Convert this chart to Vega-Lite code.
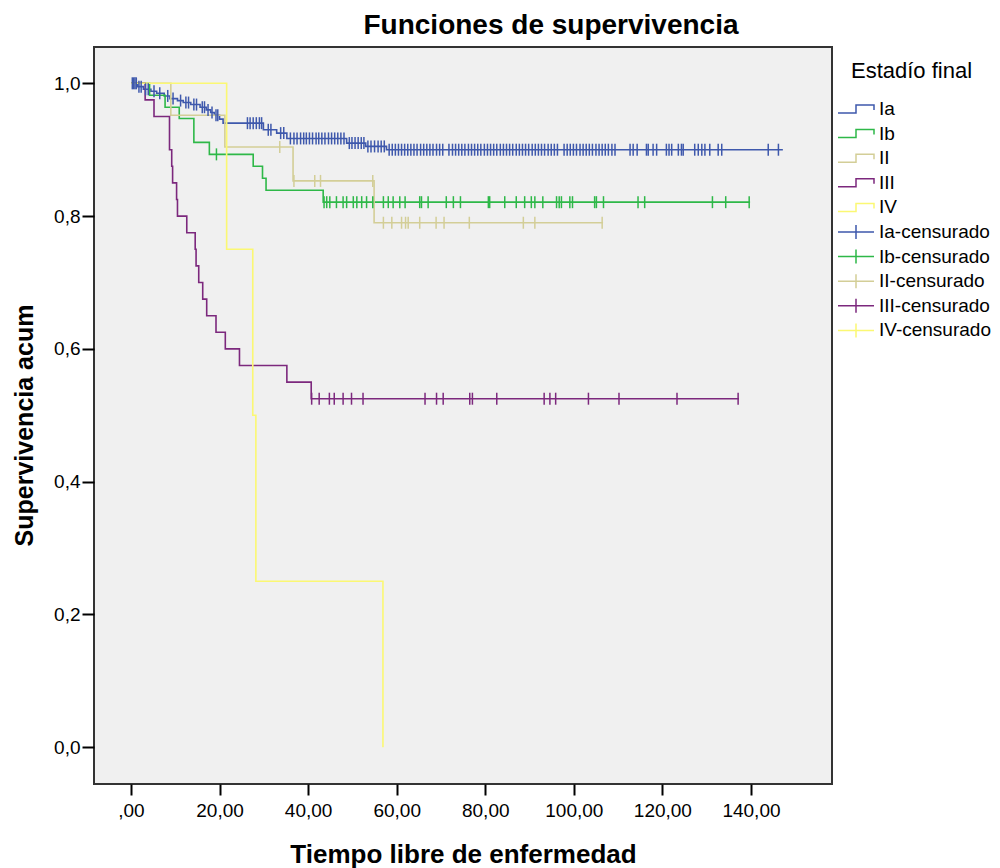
{
  "$schema": "https://vega.github.io/schema/vega-lite/v6.json",
  "width": 738,
  "height": 737,
  "autosize": {"type": "none"},
  "padding": {"left": 94, "top": 47, "right": 168, "bottom": 84},
  "background": "white",
  "title": {"text": "Funciones de supervivencia", "font": "Liberation Sans", "fontSize": 28, "fontWeight": "bold", "color": "black", "anchor": "middle", "dx": 88, "offset": 7},
  "config": {
    "view": {"fill": "#f0f0f0", "stroke": "#333333", "strokeWidth": 2},
    "axis": {"grid": false, "domain": false, "tickColor": "black", "tickWidth": 2, "tickSize": 11, "labelFont": "Liberation Sans", "labelFontSize": 19, "labelColor": "black", "titleFont": "Liberation Sans", "titleFontWeight": "bold", "titleColor": "black"}
  },
  "datasets": {
    "curves": [
      {"grupo":"Ia","tiempo":0,"superv":1},{"grupo":"Ia","tiempo":1.5,"superv":0.995},{"grupo":"Ia","tiempo":2.8,"superv":0.991},{"grupo":"Ia","tiempo":4.5,"superv":0.988},{"grupo":"Ia","tiempo":5.8,"superv":0.985},{"grupo":"Ia","tiempo":7.5,"superv":0.981},{"grupo":"Ia","tiempo":8.8,"superv":0.977},{"grupo":"Ia","tiempo":10.5,"superv":0.974},{"grupo":"Ia","tiempo":11.8,"superv":0.971},{"grupo":"Ia","tiempo":13.5,"superv":0.968},{"grupo":"Ia","tiempo":15.6,"superv":0.964},{"grupo":"Ia","tiempo":17,"superv":0.96},{"grupo":"Ia","tiempo":18,"superv":0.956},{"grupo":"Ia","tiempo":18.8,"superv":0.952},{"grupo":"Ia","tiempo":20,"superv":0.946},{"grupo":"Ia","tiempo":20.8,"superv":0.94},{"grupo":"Ia","tiempo":29.9,"superv":0.93},{"grupo":"Ia","tiempo":32.9,"superv":0.925},{"grupo":"Ia","tiempo":35.2,"superv":0.917},{"grupo":"Ia","tiempo":48.7,"superv":0.91},{"grupo":"Ia","tiempo":53,"superv":0.905},{"grupo":"Ia","tiempo":57.7,"superv":0.9},{"grupo":"Ia","tiempo":147.2,"superv":0.9},
      {"grupo":"Ib","tiempo":0,"superv":1},{"grupo":"Ib","tiempo":4.2,"superv":0.982},{"grupo":"Ib","tiempo":7.7,"superv":0.964},{"grupo":"Ib","tiempo":10.9,"superv":0.947},{"grupo":"Ib","tiempo":14.2,"superv":0.911},{"grupo":"Ib","tiempo":17.7,"superv":0.893},{"grupo":"Ib","tiempo":27.6,"superv":0.875},{"grupo":"Ib","tiempo":29.7,"superv":0.857},{"grupo":"Ib","tiempo":30.5,"superv":0.839},{"grupo":"Ib","tiempo":43.4,"superv":0.821},{"grupo":"Ib","tiempo":139.8,"superv":0.821},
      {"grupo":"II","tiempo":0,"superv":1},{"grupo":"II","tiempo":9.0,"superv":0.952},{"grupo":"II","tiempo":21.2,"superv":0.904},{"grupo":"II","tiempo":36.6,"superv":0.853},{"grupo":"II","tiempo":54.9,"superv":0.79},{"grupo":"II","tiempo":106.6,"superv":0.79},
      {"grupo":"III","tiempo":0,"superv":1},{"grupo":"III","tiempo":3.2,"superv":0.975},{"grupo":"III","tiempo":5.2,"superv":0.95},{"grupo":"III","tiempo":8.7,"superv":0.9},{"grupo":"III","tiempo":9.2,"superv":0.875},{"grupo":"III","tiempo":9.4,"superv":0.85},{"grupo":"III","tiempo":10.3,"superv":0.825},{"grupo":"III","tiempo":10.5,"superv":0.8},{"grupo":"III","tiempo":12.6,"superv":0.775},{"grupo":"III","tiempo":14.5,"superv":0.75},{"grupo":"III","tiempo":14.7,"superv":0.725},{"grupo":"III","tiempo":15.3,"superv":0.7},{"grupo":"III","tiempo":16.2,"superv":0.675},{"grupo":"III","tiempo":17.1,"superv":0.65},{"grupo":"III","tiempo":19.2,"superv":0.625},{"grupo":"III","tiempo":21.3,"superv":0.6},{"grupo":"III","tiempo":24.5,"superv":0.575},{"grupo":"III","tiempo":35.2,"superv":0.55},{"grupo":"III","tiempo":40.7,"superv":0.525},{"grupo":"III","tiempo":137.3,"superv":0.525},
      {"grupo":"IV","tiempo":0,"superv":1},{"grupo":"IV","tiempo":21.6,"superv":0.75},{"grupo":"IV","tiempo":27.5,"superv":0.5},{"grupo":"IV","tiempo":28.2,"superv":0.25},{"grupo":"IV","tiempo":56.9,"superv":0}
    ],
    "censored": [
      {"grupo":"Ia-censurado","tiempo":0.3,"superv":1},{"grupo":"Ia-censurado","tiempo":0.6,"superv":1},{"grupo":"Ia-censurado","tiempo":0.9,"superv":1},{"grupo":"Ia-censurado","tiempo":1.2,"superv":1},
      {"grupo":"Ia-censurado","tiempo":1.8,"superv":0.995},{"grupo":"Ia-censurado","tiempo":2.3,"superv":0.995},
      {"grupo":"Ia-censurado","tiempo":3.3,"superv":0.991},{"grupo":"Ia-censurado","tiempo":3.9,"superv":0.991},
      {"grupo":"Ia-censurado","tiempo":5.2,"superv":0.988},{"grupo":"Ia-censurado","tiempo":6.5,"superv":0.985},{"grupo":"Ia-censurado","tiempo":8.3,"superv":0.981},{"grupo":"Ia-censurado","tiempo":9.5,"superv":0.977},{"grupo":"Ia-censurado","tiempo":11.2,"superv":0.974},
      {"grupo":"Ia-censurado","tiempo":12.4,"superv":0.971},{"grupo":"Ia-censurado","tiempo":13.0,"superv":0.971},{"grupo":"Ia-censurado","tiempo":14.2,"superv":0.968},{"grupo":"Ia-censurado","tiempo":14.8,"superv":0.968},
      {"grupo":"Ia-censurado","tiempo":16.1,"superv":0.964},{"grupo":"Ia-censurado","tiempo":16.6,"superv":0.964},{"grupo":"Ia-censurado","tiempo":17.4,"superv":0.96},{"grupo":"Ia-censurado","tiempo":18.3,"superv":0.956},
      {"grupo":"Ia-censurado","tiempo":19.2,"superv":0.952},{"grupo":"Ia-censurado","tiempo":19.6,"superv":0.952},
      {"grupo":"Ia-censurado","tiempo":26.3,"superv":0.94},{"grupo":"Ia-censurado","tiempo":26.9,"superv":0.94},{"grupo":"Ia-censurado","tiempo":27.6,"superv":0.94},{"grupo":"Ia-censurado","tiempo":28.3,"superv":0.94},{"grupo":"Ia-censurado","tiempo":29.0,"superv":0.94},{"grupo":"Ia-censurado","tiempo":29.5,"superv":0.94},
      {"grupo":"Ia-censurado","tiempo":31.0,"superv":0.93},{"grupo":"Ia-censurado","tiempo":31.6,"superv":0.93},{"grupo":"Ia-censurado","tiempo":33.8,"superv":0.925},{"grupo":"Ia-censurado","tiempo":34.5,"superv":0.925},
      {"grupo":"Ia-censurado","tiempo":36.0,"superv":0.917},{"grupo":"Ia-censurado","tiempo":36.8,"superv":0.917},{"grupo":"Ia-censurado","tiempo":37.5,"superv":0.917},{"grupo":"Ia-censurado","tiempo":38.3,"superv":0.917},{"grupo":"Ia-censurado","tiempo":39.0,"superv":0.917},{"grupo":"Ia-censurado","tiempo":39.6,"superv":0.917},{"grupo":"Ia-censurado","tiempo":40.3,"superv":0.917},{"grupo":"Ia-censurado","tiempo":41.0,"superv":0.917},{"grupo":"Ia-censurado","tiempo":41.8,"superv":0.917},{"grupo":"Ia-censurado","tiempo":42.4,"superv":0.917},{"grupo":"Ia-censurado","tiempo":43.1,"superv":0.917},{"grupo":"Ia-censurado","tiempo":43.8,"superv":0.917},{"grupo":"Ia-censurado","tiempo":44.6,"superv":0.917},{"grupo":"Ia-censurado","tiempo":45.3,"superv":0.917},{"grupo":"Ia-censurado","tiempo":46.0,"superv":0.917},{"grupo":"Ia-censurado","tiempo":46.7,"superv":0.917},{"grupo":"Ia-censurado","tiempo":47.4,"superv":0.917},{"grupo":"Ia-censurado","tiempo":48.1,"superv":0.917},
      {"grupo":"Ia-censurado","tiempo":49.3,"superv":0.91},{"grupo":"Ia-censurado","tiempo":49.9,"superv":0.91},{"grupo":"Ia-censurado","tiempo":50.6,"superv":0.91},{"grupo":"Ia-censurado","tiempo":51.3,"superv":0.91},{"grupo":"Ia-censurado","tiempo":52.0,"superv":0.91},{"grupo":"Ia-censurado","tiempo":52.6,"superv":0.91},
      {"grupo":"Ia-censurado","tiempo":53.5,"superv":0.905},{"grupo":"Ia-censurado","tiempo":54.2,"superv":0.905},{"grupo":"Ia-censurado","tiempo":55.0,"superv":0.905},{"grupo":"Ia-censurado","tiempo":55.8,"superv":0.905},{"grupo":"Ia-censurado","tiempo":56.5,"superv":0.905},{"grupo":"Ia-censurado","tiempo":57.2,"superv":0.905},
      {"grupo":"Ia-censurado","tiempo":58.3,"superv":0.9},{"grupo":"Ia-censurado","tiempo":59.0,"superv":0.9},{"grupo":"Ia-censurado","tiempo":59.7,"superv":0.9},{"grupo":"Ia-censurado","tiempo":60.4,"superv":0.9},{"grupo":"Ia-censurado","tiempo":61.1,"superv":0.9},{"grupo":"Ia-censurado","tiempo":61.8,"superv":0.9},{"grupo":"Ia-censurado","tiempo":62.5,"superv":0.9},{"grupo":"Ia-censurado","tiempo":63.2,"superv":0.9},{"grupo":"Ia-censurado","tiempo":63.9,"superv":0.9},{"grupo":"Ia-censurado","tiempo":64.6,"superv":0.9},{"grupo":"Ia-censurado","tiempo":65.4,"superv":0.9},{"grupo":"Ia-censurado","tiempo":66.1,"superv":0.9},{"grupo":"Ia-censurado","tiempo":66.8,"superv":0.9},{"grupo":"Ia-censurado","tiempo":67.5,"superv":0.9},{"grupo":"Ia-censurado","tiempo":68.2,"superv":0.9},{"grupo":"Ia-censurado","tiempo":69.0,"superv":0.9},{"grupo":"Ia-censurado","tiempo":69.7,"superv":0.9},{"grupo":"Ia-censurado","tiempo":70.4,"superv":0.9},{"grupo":"Ia-censurado","tiempo":71.8,"superv":0.9},{"grupo":"Ia-censurado","tiempo":72.6,"superv":0.9},{"grupo":"Ia-censurado","tiempo":73.3,"superv":0.9},{"grupo":"Ia-censurado","tiempo":74.0,"superv":0.9},{"grupo":"Ia-censurado","tiempo":74.7,"superv":0.9},{"grupo":"Ia-censurado","tiempo":75.4,"superv":0.9},{"grupo":"Ia-censurado","tiempo":76.2,"superv":0.9},{"grupo":"Ia-censurado","tiempo":76.9,"superv":0.9},{"grupo":"Ia-censurado","tiempo":77.6,"superv":0.9},{"grupo":"Ia-censurado","tiempo":78.3,"superv":0.9},{"grupo":"Ia-censurado","tiempo":79.0,"superv":0.9},{"grupo":"Ia-censurado","tiempo":79.8,"superv":0.9},{"grupo":"Ia-censurado","tiempo":80.5,"superv":0.9},{"grupo":"Ia-censurado","tiempo":81.2,"superv":0.9},{"grupo":"Ia-censurado","tiempo":81.9,"superv":0.9},{"grupo":"Ia-censurado","tiempo":82.6,"superv":0.9},{"grupo":"Ia-censurado","tiempo":83.4,"superv":0.9},{"grupo":"Ia-censurado","tiempo":84.1,"superv":0.9},{"grupo":"Ia-censurado","tiempo":84.8,"superv":0.9},{"grupo":"Ia-censurado","tiempo":85.5,"superv":0.9},{"grupo":"Ia-censurado","tiempo":86.2,"superv":0.9},{"grupo":"Ia-censurado","tiempo":87.0,"superv":0.9},{"grupo":"Ia-censurado","tiempo":87.7,"superv":0.9},{"grupo":"Ia-censurado","tiempo":88.4,"superv":0.9},{"grupo":"Ia-censurado","tiempo":89.1,"superv":0.9},{"grupo":"Ia-censurado","tiempo":89.8,"superv":0.9},{"grupo":"Ia-censurado","tiempo":90.6,"superv":0.9},{"grupo":"Ia-censurado","tiempo":91.3,"superv":0.9},{"grupo":"Ia-censurado","tiempo":92.0,"superv":0.9},{"grupo":"Ia-censurado","tiempo":92.7,"superv":0.9},{"grupo":"Ia-censurado","tiempo":93.4,"superv":0.9},{"grupo":"Ia-censurado","tiempo":94.2,"superv":0.9},{"grupo":"Ia-censurado","tiempo":94.9,"superv":0.9},{"grupo":"Ia-censurado","tiempo":95.6,"superv":0.9},{"grupo":"Ia-censurado","tiempo":96.3,"superv":0.9},{"grupo":"Ia-censurado","tiempo":97.8,"superv":0.9},{"grupo":"Ia-censurado","tiempo":98.5,"superv":0.9},{"grupo":"Ia-censurado","tiempo":99.2,"superv":0.9},{"grupo":"Ia-censurado","tiempo":99.9,"superv":0.9},{"grupo":"Ia-censurado","tiempo":100.6,"superv":0.9},{"grupo":"Ia-censurado","tiempo":101.4,"superv":0.9},{"grupo":"Ia-censurado","tiempo":102.1,"superv":0.9},{"grupo":"Ia-censurado","tiempo":102.8,"superv":0.9},{"grupo":"Ia-censurado","tiempo":103.5,"superv":0.9},{"grupo":"Ia-censurado","tiempo":104.2,"superv":0.9},{"grupo":"Ia-censurado","tiempo":105.0,"superv":0.9},{"grupo":"Ia-censurado","tiempo":105.7,"superv":0.9},{"grupo":"Ia-censurado","tiempo":106.4,"superv":0.9},{"grupo":"Ia-censurado","tiempo":107.1,"superv":0.9},{"grupo":"Ia-censurado","tiempo":107.8,"superv":0.9},{"grupo":"Ia-censurado","tiempo":108.6,"superv":0.9},{"grupo":"Ia-censurado","tiempo":109.3,"superv":0.9},
      {"grupo":"Ia-censurado","tiempo":112.7,"superv":0.9},{"grupo":"Ia-censurado","tiempo":113.4,"superv":0.9},{"grupo":"Ia-censurado","tiempo":114.3,"superv":0.9},{"grupo":"Ia-censurado","tiempo":116.4,"superv":0.9},{"grupo":"Ia-censurado","tiempo":116.8,"superv":0.9},{"grupo":"Ia-censurado","tiempo":117.9,"superv":0.9},{"grupo":"Ia-censurado","tiempo":118.7,"superv":0.9},{"grupo":"Ia-censurado","tiempo":120.9,"superv":0.9},{"grupo":"Ia-censurado","tiempo":121.5,"superv":0.9},{"grupo":"Ia-censurado","tiempo":122.1,"superv":0.9},{"grupo":"Ia-censurado","tiempo":123.6,"superv":0.9},{"grupo":"Ia-censurado","tiempo":124.3,"superv":0.9},{"grupo":"Ia-censurado","tiempo":124.7,"superv":0.9},{"grupo":"Ia-censurado","tiempo":127.3,"superv":0.9},{"grupo":"Ia-censurado","tiempo":128.1,"superv":0.9},{"grupo":"Ia-censurado","tiempo":128.9,"superv":0.9},{"grupo":"Ia-censurado","tiempo":129.6,"superv":0.9},{"grupo":"Ia-censurado","tiempo":130.7,"superv":0.9},{"grupo":"Ia-censurado","tiempo":132.6,"superv":0.9},{"grupo":"Ia-censurado","tiempo":133.4,"superv":0.9},{"grupo":"Ia-censurado","tiempo":143.9,"superv":0.9},{"grupo":"Ia-censurado","tiempo":146.2,"superv":0.9},
      {"grupo":"Ib-censurado","tiempo":19.3,"superv":0.893},
      {"grupo":"Ib-censurado","tiempo":43.6,"superv":0.821},{"grupo":"Ib-censurado","tiempo":44.2,"superv":0.821},{"grupo":"Ib-censurado","tiempo":44.9,"superv":0.821},{"grupo":"Ib-censurado","tiempo":46.4,"superv":0.821},{"grupo":"Ib-censurado","tiempo":47.9,"superv":0.821},{"grupo":"Ib-censurado","tiempo":48.7,"superv":0.821},{"grupo":"Ib-censurado","tiempo":50.2,"superv":0.821},{"grupo":"Ib-censurado","tiempo":51.0,"superv":0.821},{"grupo":"Ib-censurado","tiempo":52.1,"superv":0.821},{"grupo":"Ib-censurado","tiempo":53.2,"superv":0.821},{"grupo":"Ib-censurado","tiempo":54.6,"superv":0.821},{"grupo":"Ib-censurado","tiempo":57.0,"superv":0.821},{"grupo":"Ib-censurado","tiempo":58.1,"superv":0.821},{"grupo":"Ib-censurado","tiempo":59.2,"superv":0.821},{"grupo":"Ib-censurado","tiempo":60.7,"superv":0.821},{"grupo":"Ib-censurado","tiempo":61.9,"superv":0.821},{"grupo":"Ib-censurado","tiempo":65.2,"superv":0.821},{"grupo":"Ib-censurado","tiempo":65.6,"superv":0.821},{"grupo":"Ib-censurado","tiempo":67.1,"superv":0.821},{"grupo":"Ib-censurado","tiempo":71.2,"superv":0.821},{"grupo":"Ib-censurado","tiempo":72.8,"superv":0.821},{"grupo":"Ib-censurado","tiempo":74.4,"superv":0.821},{"grupo":"Ib-censurado","tiempo":80.7,"superv":0.821},{"grupo":"Ib-censurado","tiempo":81.0,"superv":0.821},{"grupo":"Ib-censurado","tiempo":84.4,"superv":0.821},{"grupo":"Ib-censurado","tiempo":87.0,"superv":0.821},{"grupo":"Ib-censurado","tiempo":88.9,"superv":0.821},{"grupo":"Ib-censurado","tiempo":90.4,"superv":0.821},{"grupo":"Ib-censurado","tiempo":91.2,"superv":0.821},{"grupo":"Ib-censurado","tiempo":93.0,"superv":0.821},{"grupo":"Ib-censurado","tiempo":96.1,"superv":0.821},{"grupo":"Ib-censurado","tiempo":96.7,"superv":0.821},{"grupo":"Ib-censurado","tiempo":97.2,"superv":0.821},{"grupo":"Ib-censurado","tiempo":99.1,"superv":0.821},{"grupo":"Ib-censurado","tiempo":99.7,"superv":0.821},{"grupo":"Ib-censurado","tiempo":104.7,"superv":0.821},{"grupo":"Ib-censurado","tiempo":105.1,"superv":0.821},{"grupo":"Ib-censurado","tiempo":106.7,"superv":0.821},{"grupo":"Ib-censurado","tiempo":114.5,"superv":0.821},{"grupo":"Ib-censurado","tiempo":116.0,"superv":0.821},{"grupo":"Ib-censurado","tiempo":131.3,"superv":0.821},{"grupo":"Ib-censurado","tiempo":134.3,"superv":0.821},{"grupo":"Ib-censurado","tiempo":139.6,"superv":0.821},
      {"grupo":"II-censurado","tiempo":33.6,"superv":0.904},{"grupo":"II-censurado","tiempo":36.8,"superv":0.853},{"grupo":"II-censurado","tiempo":41.5,"superv":0.853},{"grupo":"II-censurado","tiempo":42.8,"superv":0.853},{"grupo":"II-censurado","tiempo":54.6,"superv":0.853},
      {"grupo":"II-censurado","tiempo":57.0,"superv":0.79},{"grupo":"II-censurado","tiempo":58.9,"superv":0.79},{"grupo":"II-censurado","tiempo":61.1,"superv":0.79},{"grupo":"II-censurado","tiempo":62.0,"superv":0.79},{"grupo":"II-censurado","tiempo":62.6,"superv":0.79},{"grupo":"II-censurado","tiempo":65.2,"superv":0.79},{"grupo":"II-censurado","tiempo":68.9,"superv":0.79},{"grupo":"II-censurado","tiempo":70.7,"superv":0.79},{"grupo":"II-censurado","tiempo":76.4,"superv":0.79},{"grupo":"II-censurado","tiempo":88.6,"superv":0.79},{"grupo":"II-censurado","tiempo":91.2,"superv":0.79},{"grupo":"II-censurado","tiempo":106.4,"superv":0.79},
      {"grupo":"III-censurado","tiempo":40.8,"superv":0.525},{"grupo":"III-censurado","tiempo":42.5,"superv":0.525},{"grupo":"III-censurado","tiempo":44.8,"superv":0.525},{"grupo":"III-censurado","tiempo":45.9,"superv":0.525},{"grupo":"III-censurado","tiempo":47.9,"superv":0.525},{"grupo":"III-censurado","tiempo":49.8,"superv":0.525},{"grupo":"III-censurado","tiempo":52.4,"superv":0.525},{"grupo":"III-censurado","tiempo":66.4,"superv":0.525},{"grupo":"III-censurado","tiempo":69.0,"superv":0.525},{"grupo":"III-censurado","tiempo":70.5,"superv":0.525},{"grupo":"III-censurado","tiempo":76.5,"superv":0.525},{"grupo":"III-censurado","tiempo":77.1,"superv":0.525},{"grupo":"III-censurado","tiempo":82.6,"superv":0.525},{"grupo":"III-censurado","tiempo":93.3,"superv":0.525},{"grupo":"III-censurado","tiempo":94.6,"superv":0.525},{"grupo":"III-censurado","tiempo":95.9,"superv":0.525},{"grupo":"III-censurado","tiempo":103.3,"superv":0.525},{"grupo":"III-censurado","tiempo":110.2,"superv":0.525},{"grupo":"III-censurado","tiempo":123.3,"superv":0.525},{"grupo":"III-censurado","tiempo":137.1,"superv":0.525}
    ]
  },
  "layer": [
    {
      "data": {"name": "curves"},
      "mark": {"type": "line", "interpolate": "step-after", "strokeWidth": 1.6},
      "encoding": {
        "x": {"field": "tiempo", "type": "quantitative", "scale": {"domain": [-8.35, 158.3], "nice": false, "zero": false},
              "axis": {"values": [0, 20, 40, 60, 80, 100, 120, 140], "labelExpr": "datum.value == 0 ? ',00' : datum.value + ',00'", "labelPadding": 6, "title": "Tiempo libre de enfermedad", "titleFontSize": 26, "titleBaseline": "alphabetic", "titleY": 78}},
        "y": {"field": "superv", "type": "quantitative", "scale": {"domain": [-0.0553, 1.0547], "nice": false, "zero": false},
              "axis": {"values": [0, 0.2, 0.4, 0.6, 0.8, 1], "labelExpr": "replace(format(datum.value, '.1f'), '.', ',')", "labelPadding": 2, "tickSize": 12, "title": "Supervivencia acum", "titleFontSize": 25, "titleBaseline": "alphabetic", "titleAngle": -90, "titleAlign": "center", "titleX": -62, "titleY": 378}},
        "color": {"field": "grupo", "type": "nominal",
                  "scale": {"domain": ["Ia", "Ib", "II", "III", "IV", "Ia-censurado", "Ib-censurado", "II-censurado", "III-censurado", "IV-censurado"],
                            "range": ["#3e58ac", "#2eb848", "#d3ce97", "#7c287d", "#fbf873", "#3e58ac", "#2eb848", "#d3ce97", "#7c287d", "#fbf873"]},
                  "legend": {"orient": "none", "legendX": 757, "legendY": 14, "title": "Estadío final", "titleFont": "Liberation Sans", "titleFontSize": 22, "titleFontWeight": "normal", "titleColor": "black", "titlePadding": 15, "titleBaseline": "top",
                             "labelFont": "Liberation Sans", "labelFontSize": 19, "labelColor": "black", "labelOffset": 6, "rowPadding": 3.6, "padding": 0, "symbolSize": 400, "symbolStrokeWidth": 1.5, "symbolFillColor": "transparent",
                             "encode": {"symbols": {"update": {"shape": {"signal": "indexof(['Ia','Ib','II','III','IV'], datum.value) >= 0 ? 'M-2.4,0.4H-0.6V-0.4H1.2V0.1' : 'M-2.4,0H1.2M-0.6,-0.7V0.7'"}, "size": {"value": 400}, "fill": {"value": "transparent"}, "strokeWidth": {"value": 1.5}}}}}}
      }
    },
    {
      "data": {"name": "censored"},
      "mark": {"type": "point", "shape": "M0,-1V1", "size": 144, "filled": false, "strokeWidth": 1.5, "opacity": 1},
      "encoding": {
        "x": {"field": "tiempo", "type": "quantitative"},
        "y": {"field": "superv", "type": "quantitative"},
        "color": {"field": "grupo", "type": "nominal"}
      }
    }
  ]
}
